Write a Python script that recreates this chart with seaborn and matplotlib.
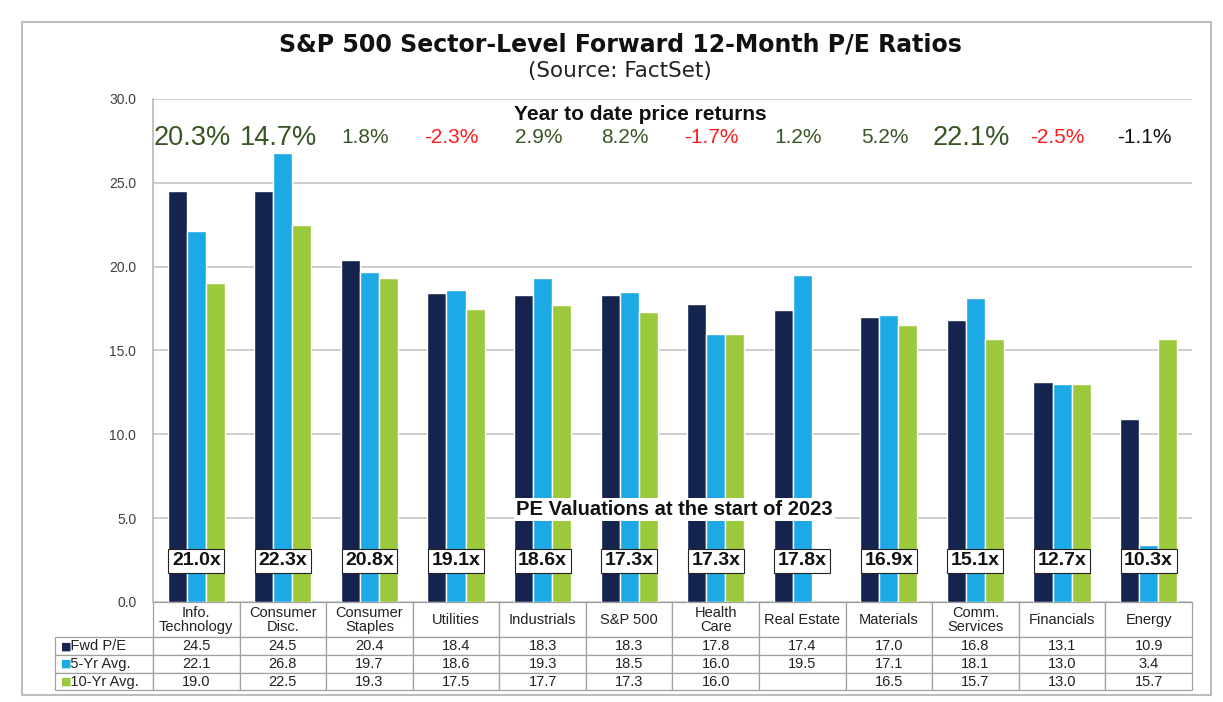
import matplotlib.pyplot as plt
import matplotlib.patches as mpatches
import numpy as np
import pandas as pd
import seaborn as sns

# data
sectors = ["Info.\nTechnology", "Consumer\nDisc.", "Consumer\nStaples", "Utilities",
           "Industrials", "S&P 500", "Health\nCare", "Real Estate", "Materials",
           "Comm.\nServices", "Financials", "Energy"]
fwd_pe = [24.5, 24.5, 20.4, 18.4, 18.3, 18.3, 17.8, 17.4, 17.0, 16.8, 13.1, 10.9]
avg_5yr = [22.1, 26.8, 19.7, 18.6, 19.3, 18.5, 16.0, 19.5, 17.1, 18.1, 13.0, 3.4]
avg_10yr = [19.0, 22.5, 19.3, 17.5, 17.7, 17.3, 16.0, np.nan, 16.5, 15.7, 13.0, 15.7]
series_names = ["Fwd P/E", "5-Yr Avg.", "10-Yr Avg."]
ytd_returns = [20.3, 14.7, 1.8, -2.3, 2.9, 8.2, -1.7, 1.2, 5.2, 22.1, -2.5, -1.1]
pe_start_2023 = [21.0, 22.3, 20.8, 19.1, 18.6, 17.3, 17.3, 17.8, 16.9, 15.1, 12.7, 10.3]

colors = ["#15244F", "#1CA9E6", "#9BC93B"]
ret_colors = ["#375623"] * 12
for i, r in enumerate(ytd_returns):
    if r < 0:
        ret_colors[i] = "#FF1A1A"
ret_colors[-1] = "#111111"
big = [20.3, 14.7, 22.1]

df = pd.DataFrame({
    "sector": sectors * 3,
    "series": np.repeat(series_names, len(sectors)),
    "value": fwd_pe + avg_5yr + avg_10yr,
})

sns.set_style("white")
plt.rcParams['font.family'] = ['Liberation Sans', 'DejaVu Sans']

fig = plt.figure(figsize=(12.23, 7.02), dpi=100)
ax = fig.add_axes([0.1251, 0.1425, 0.8495, 0.7165])

sns.barplot(data=df, x="sector", y="value", hue="series", hue_order=series_names,
            palette=colors, width=0.66, gap=0, errorbar=None, ax=ax, zorder=2,
            saturation=1)
ax.legend_.remove()

ax.set_ylim(0, 30)
ax.set_xlim(-0.5, len(sectors) - 0.5)
ax.set_yticks(np.arange(0, 30.1, 5))
ax.set_yticklabels([f"{v:.1f}" for v in np.arange(0, 30.1, 5)], fontsize=10, color="#404040")
ax.tick_params(axis="y", length=0, pad=12)
ax.set_xticks([])
ax.set_xlabel("")
ax.set_ylabel("")
ax.yaxis.grid(True, color="#C0C0C0", linewidth=1.1, zorder=0)
ax.set_axisbelow(True)
for s in ["top", "right", "bottom"]:
    ax.spines[s].set_visible(False)
ax.spines["left"].set_color("#B0B0B0")
ax.spines["left"].set_linewidth(1.1)

# year to date returns
ax.text(0.469, 29.1, "Year to date price returns", transform=ax.get_yaxis_transform(),
        ha="center", va="center", fontsize=15, fontweight="bold", color="#111111")
for i, r in enumerate(ytd_returns):
    ax.text(i - 0.05, 27.7, f"{r:.1f}%", ha="center", va="center",
            fontsize=19.5 if r in big else 15, color=ret_colors[i])

# PE valuations at the start of 2023
ax.text(0.502, 5.5, "PE Valuations at the start of 2023", transform=ax.get_yaxis_transform(),
        ha="center", va="center", fontsize=14.5, fontweight="bold", color="#111111", zorder=5,
        bbox=dict(boxstyle="square,pad=0.1", fc="white", ec="none"))
for i, v in enumerate(pe_start_2023):
    ax.text(i, 2.45, f"{v:.1f}x", ha="center", va="center", fontsize=14, fontweight="bold",
            color="#111111", zorder=5,
            bbox=dict(boxstyle="square,pad=0.18", fc="white", ec="#222222", lw=0.8))

# data table below the bars
cell_text = [["   " + name] + ["" if np.isnan(v) else f"{v:.1f}" for v in row]
             for name, row in zip(series_names, [fwd_pe, avg_5yr, avg_10yr])]
tbl = ax.table(cellText=cell_text, colLabels=[""] + sectors,
               colWidths=[0.094] + [1 / 12] * 12, cellLoc="center",
               bbox=[-0.094, -0.176, 1.094, 0.176])
tbl.auto_set_font_size(False)
tbl.set_fontsize(10.5)
for (r, c), cell in tbl.get_celld().items():
    cell.set_edgecolor("#A0A0A0")
    cell.set_linewidth(0.9)
    cell.set_height(2.0 if r == 0 else 1.0)
    cell.get_text().set_color("#222222")
    if c == 0:
        cell.get_text().set_ha("left")
        cell._loc = "left"
        cell.PAD = 0.03
        if r == 0:
            cell.visible_edges = ""
    if r == 0:
        cell.get_text().set_linespacing(1.0)

for k, c in enumerate(colors):
    ax.text(-0.089, -0.176 + 0.0352 * (2.5 - k), "■", transform=ax.transAxes,
            ha="left", va="center", fontsize=8, color=c, family="DejaVu Sans")

# titles
fig.text(0.507, 0.936, "S&P 500 Sector-Level Forward 12-Month P/E Ratios", ha="center",
         va="center", fontsize=17, fontweight="bold", color="#111111", family="DejaVu Sans")
fig.text(0.507, 0.899, "(Source: FactSet)", ha="center", va="center", fontsize=15.5,
         color="#222222", family="DejaVu Sans")

# outer frame
fig.patches.append(mpatches.Rectangle((0.018, 0.01), 0.972, 0.959, transform=fig.transFigure,
                                      fill=False, ec="#BDBDBD", lw=1.5))

fig.savefig("out.png", dpi=100)
